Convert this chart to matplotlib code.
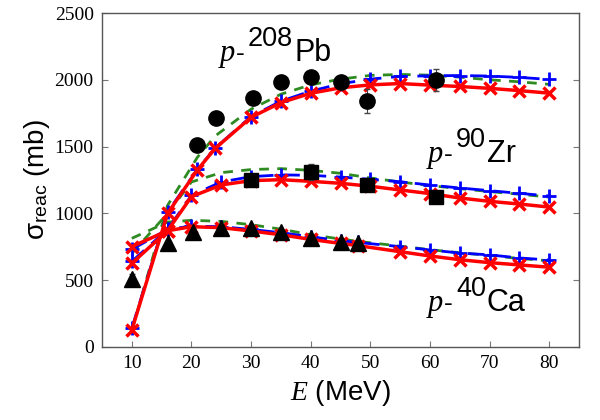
import matplotlib
matplotlib.use("Agg")
import matplotlib.pyplot as plt

plt.rcParams['font.family'] = ['Liberation Sans', 'DejaVu Sans']
plt.rcParams['mathtext.fontset'] = 'custom'
plt.rcParams['mathtext.rm'] = 'Liberation Sans'
plt.rcParams['mathtext.it'] = 'Liberation Serif:italic'
plt.rcParams['mathtext.bf'] = 'Liberation Sans:bold'

# ---- data: p-208Pb ----
E_pb = [10, 16, 21, 24, 30, 35, 40, 45, 50, 55, 60, 65, 70, 75, 80]
pb_red = [127, 1000, 1325, 1487, 1719, 1829, 1899, 1940, 1962, 1972, 1960, 1950, 1936, 1919, 1900]
pb_blue = [140, 1010, 1330, 1490, 1725, 1840, 1915, 1970, 2005, 2025, 2030, 2032, 2028, 2018, 2003]
pb_green = [120, 1060, 1420, 1580, 1780, 1892, 1962, 2005, 2033, 2040, 2035, 2020, 2000, 1985, 1966]
E_pb_exp = [21, 24.1, 30.3, 35, 40, 45, 49.5, 61]
pb_exp = [1512, 1712, 1867, 1980, 2020, 1986, 1844, 1998]
pb_err = [30, 20, 20, 20, 20, 20, 90, 80]

# ---- data: p-90Zr ----
E_zr = [10, 16, 20, 25, 30, 35, 40, 45, 50, 55, 60, 65, 70, 75, 80]
zr_red = [626, 870, 1125, 1213, 1245, 1252, 1240, 1225, 1203, 1175, 1148, 1115, 1090, 1070, 1047]
zr_blue = [640, 880, 1135, 1235, 1275, 1288, 1285, 1272, 1255, 1237, 1212, 1190, 1170, 1150, 1130]
zr_green = [700, 1000, 1235, 1305, 1328, 1335, 1322, 1300, 1265, 1235, 1208, 1185, 1163, 1143, 1122]
E_zr_exp = [30, 40, 49.5, 61]
zr_exp = [1250, 1312, 1213, 1120]
zr_err = [15, 60, 30, 20]

# ---- data: p-40Ca ----
E_ca = [10, 16, 20, 25, 30, 35, 40, 45, 48, 55, 60, 65, 70, 75, 80]
ca_red = [751, 870, 900, 893, 868, 840, 805, 775, 758, 713, 681, 653, 631, 614, 597]
ca_blue = [730, 880, 905, 900, 880, 855, 825, 795, 782, 751, 726, 703, 689, 666, 651]
ca_green = [813, 935, 948, 940, 915, 882, 840, 808, 790, 755, 728, 705, 685, 662, 645]
E_ca_exp = [10, 16, 20.3, 25, 30, 35, 40, 45, 48]
ca_exp = [507, 781, 863, 888, 888, 863, 813, 788, 781]
ca_err = [40, 15, 15, 15, 15, 15, 15, 15, 15]

# label pieces: (nucleus mass number, symbol)
labels = [('208', 'Pb'), ('90', 'Zr'), ('40', 'Ca')]

red = '#ff0000'
blue = '#0000ff'
green = '#2e8b22'

fig = plt.figure(figsize=(6, 4.2), dpi=100)
ax = fig.add_axes([0.17, 0.174, 0.795, 0.795])

for E, g in [(E_pb, pb_green), (E_zr, zr_green), (E_ca, ca_green)]:
    ax.plot(E, g, color=green, lw=2, ls=(0, (3.5, 3)), zorder=2)
for E, b in [(E_pb, pb_blue), (E_zr, zr_blue), (E_ca, ca_blue)]:
    ax.plot(E, b, color=blue, lw=2, ls=(0, (6, 3.5)), marker='+', ms=10, mew=2, zorder=3)
for E, r in [(E_pb, pb_red), (E_zr, zr_red), (E_ca, ca_red)]:
    ax.plot(E, r, color=red, lw=2.5, ls='-', marker='x', ms=8.5, mew=2.5, zorder=4)

ekw = dict(ls='none', color='black', ecolor='#444444', elinewidth=0.8, capsize=2.5, zorder=5)
ax.errorbar(E_pb_exp, pb_exp, yerr=pb_err, marker='o', ms=11, **ekw)
ax.errorbar(E_zr_exp, zr_exp, yerr=zr_err, marker='s', ms=9.5, **ekw)
ax.errorbar(E_ca_exp, ca_exp, yerr=ca_err, marker='^', ms=12, **ekw)

ax.set_xlim(5, 85)
ax.set_ylim(0, 2500)
ax.set_xticks([10, 20, 30, 40, 50, 60, 70, 80])
ax.set_yticks([0, 500, 1000, 1500, 2000, 2500])

for s in ax.spines.values():
    s.set_color('#555555')
    s.set_linewidth(1.0)
ax.tick_params(direction='in', right=True, top=False, length=4, color='#777777',
               labelsize=14, pad=6)
for lab in ax.get_xticklabels() + ax.get_yticklabels():
    lab.set_fontfamily('Liberation Serif')

ax.set_xlabel('$E$ (MeV)', fontsize=20, labelpad=4)
ax.set_ylabel('σ$_{\\mathregular{reac}}$ (mb)', fontsize=20, labelpad=2)

# nucleus labels drawn piece by piece (pixel positions in the figure)
renderer = fig.canvas.get_renderer()
W, H = 600.0, 420.0
anchors = [(220, 61), (428, 162), (428, 311)]
for (mass, sym), (px, py) in zip(labels, anchors):
    x = px
    pieces = [('p', 22, 'Liberation Serif', 'italic', 0, 1),
              ('-', 19, 'Liberation Sans', 'normal', 0, 3),
              (mass, 19.5, 'Liberation Sans', 'normal', 15, 1),
              (sym, 22, 'Liberation Sans', 'normal', 0, 0)]
    for s, fs, fam, sty, dy, gap in pieces:
        t = fig.text(x / W, 1 - (py - dy) / H, s, fontsize=fs, family=fam,
                     style=sty, va='baseline', ha='left')
        bb = t.get_window_extent(renderer)
        x += bb.width + gap

fig.savefig('out.png', dpi=100)
